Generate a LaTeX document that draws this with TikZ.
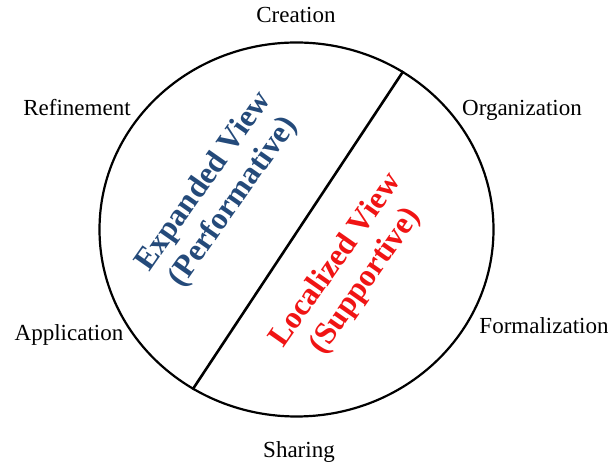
\documentclass[tikz,border=0pt]{standalone}
\usepackage{fontspec}
\setmainfont{Liberation Serif}
\usetikzlibrary{shapes.geometric}
\definecolor{viewblue}{RGB}{36,74,122}
\definecolor{viewred}{RGB}{240,20,20}
\tikzset{
	stage/.style={anchor=base, font=\fontsize{23}{25}\selectfont},
	view/.style={align=center, rotate=55, font=\fontsize{31.5}{36}\selectfont\bfseries}
}

\begin{document}
\begin{tikzpicture}[x=1pt,y=1pt]
	\useasboundingbox (0,0) rectangle (608,465);
	\node[ellipse, draw, line width=2.2pt, inner sep=0pt, minimum width=394pt, minimum height=374pt] (wheel) at (296.5,235.5) {};
	\draw[line width=2.6pt] (wheel.56) -- (wheel.237);
	\node[stage] (creation) at (296,442) {Creation};
	\node[stage] (refine) at (77,349) {Refinement};
	\node[stage] (organize) at (522,349) {Organization};
	\node[stage] (apply) at (69,124) {Application};
	\node[stage] (formal) at (544,131) {Formalization};
	\node[stage] (share) at (299,7) {Sharing};
	\node[view, text=viewblue] (expanded) at (219,273) {Expanded View\\(Performative)};
	\node[view, text=viewred] (localized) at (351,194) {Localized View\\(Supportive)};
\end{tikzpicture}
\end{document}
